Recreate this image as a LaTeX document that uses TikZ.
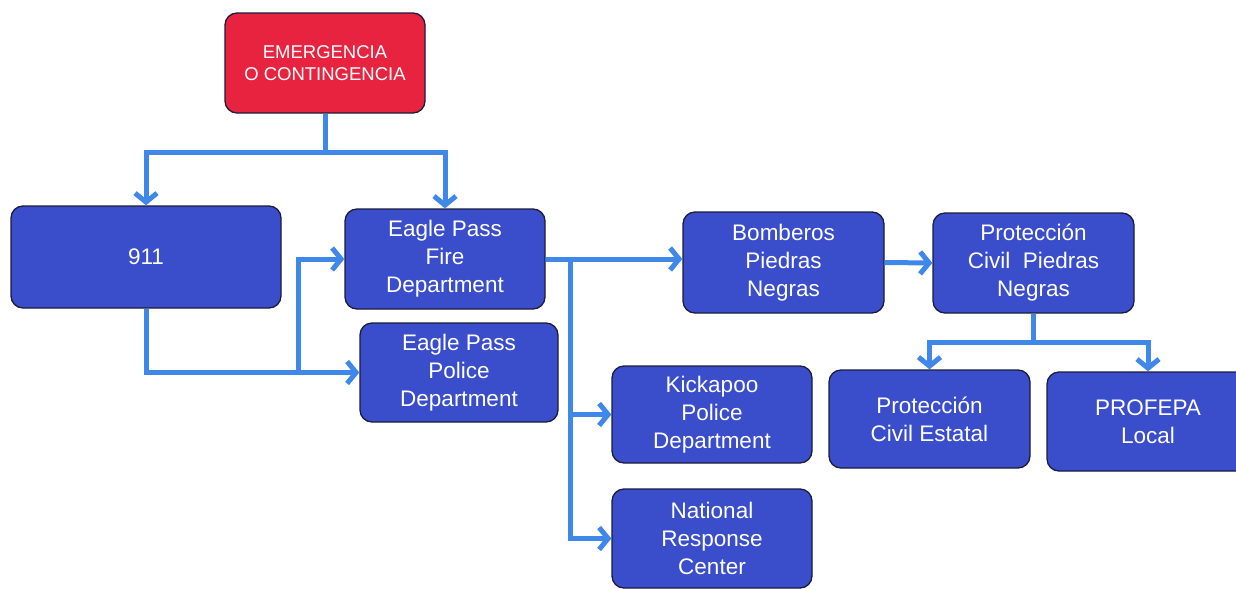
\documentclass[tikz,border=0pt]{standalone}
\usepackage{fontspec}
\setmainfont{Liberation Sans}
\usetikzlibrary{arrows.meta}
\definecolor{boxblue}{HTML}{3A4ECC}
\definecolor{boxred}{HTML}{E8233F}
\definecolor{linkblue}{HTML}{3F88EA}
\definecolor{edge}{HTML}{1C1C3A}
\tikzset{
  box/.style={draw=edge, line width=1.3pt, rounded corners=12pt, fill=boxblue,
    text=white, align=center, inner sep=0pt, font=\fontsize{22.5}{28}\selectfont},
  redbox/.style={box, fill=boxred, font=\fontsize{18.5}{22}\selectfont},
  conn/.style={draw=linkblue, line width=5pt},
  arr/.style={conn, -{Straight Barb[length=9pt,width=22pt]}},
}
\begin{document}
\begin{tikzpicture}[x=1pt,y=-1pt]
\useasboundingbox (0,0) rectangle (1236,589);
\node[redbox, minimum width=200pt, minimum height=100pt] (em) at (325,63) {EMERGENCIA\\O CONTINGENCIA};
\node[box, minimum width=270pt, minimum height=102pt] (n911) at (146,257) {911};
\node[box, minimum width=200pt, minimum height=100pt] (fire) at (445,259) {Eagle Pass\\Fire\\Department};
\node[box, minimum width=198pt, minimum height=99pt] (police) at (459,372.5) {Eagle Pass\\Police\\Department};
\node[box, minimum width=201pt, minimum height=101pt] (bomb) at (783.5,262.5) {Bomberos\\Piedras\\Negras};
\node[box, minimum width=201pt, minimum height=100pt] (pcpn) at (1033.5,263) {Protección\\Civil~~Piedras\\Negras};
\node[box, minimum width=200pt, minimum height=97pt] (kick) at (712,414.5) {Kickapoo\\Police\\Department};
\node[box, minimum width=200pt, minimum height=99pt] (nrc) at (712,538.5) {National\\Response\\Center};
\node[box, minimum width=201pt, minimum height=98pt] (pce) at (929.5,419) {Protección\\Civil Estatal};
\node[box, minimum width=202pt, minimum height=99pt] (prof) at (1148,421.5) {PROFEPA\\Local};

% emergency split
\draw[conn] (em.south) -- ++(0,39) coordinate (j1);
\draw[arr] (j1) -| (n911.north);
\draw[arr] (j1) -| (fire.north);
% 911 to police and fire
\draw[arr] (n911.south) |- (police.west);
\coordinate (j2) at (298,372.5);
\draw[arr] (j2) |- (fire.west);
% fire outputs
\draw[arr] (fire.east) -- (fire.east -| bomb.west);
\coordinate (j3) at (570,259);
\draw[arr] (j3) |- (kick.west);
\draw[arr] (j3) |- (nrc.west);
% bomberos to proteccion civil
\draw[arr] (bomb.east) -- (pcpn.west);
% proteccion civil split
\draw[conn] (pcpn.south) -- ++(0,29) coordinate (j4);
\draw[arr] (j4) -| (pce.north);
\draw[arr] (j4) -| (prof.north);
\end{tikzpicture}
\end{document}
